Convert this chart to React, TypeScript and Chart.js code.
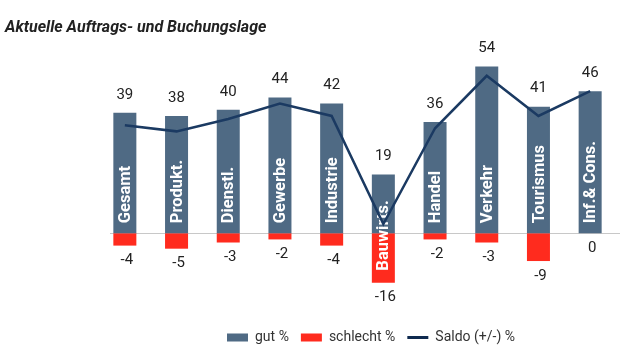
import React, { useEffect, useRef } from "react";
import { Chart, registerables } from "chart.js";

Chart.register(...registerables);

const title = "Aktuelle Auftrags- und Buchungslage";
const categories = ["Gesamt", "Produkt.", "Dienstl.", "Gewerbe", "Industrie", "Bauwirts.", "Handel", "Verkehr", "Tourismus", "Inf.& Cons."];
const gut = [39, 38, 40, 44, 42, 19, 36, 54, 41, 46];
const schlecht = [-4, -5, -3, -2, -4, -16, -2, -3, -9, 0];
const saldo = [35, 33, 37, 42, 38, 3, 34, 51, 38, 46];
const seriesNames = ["gut %", "schlecht %", "Saldo (+/-) %"];

const GUT_COLOR = "#4f6a84";
const BAD_COLOR = "#ff2b1e";
const LINE_COLOR = "#1b3a62";
const TEXT_COLOR = "#222222";
const FONT = "Roboto, 'DejaVu Sans', sans-serif";

const overlay = {
  id: "overlay",
  beforeDatasetsDraw(chart: any) {
    const { ctx, chartArea } = chart;
    const y0 = Math.round(chart.scales.y.getPixelForValue(0)) + 0.5;
    ctx.save();
    ctx.strokeStyle = "#c8c8c8";
    ctx.lineWidth = 1;
    ctx.beginPath();
    ctx.moveTo(chartArea.left + 11, y0);
    ctx.lineTo(chart.width, y0);
    ctx.stroke();
    ctx.restore();
  },
  afterDatasetDraw(chart: any, args: any) {
    if (args.index !== 0) return;
    const { ctx } = chart;
    const yScale = chart.scales.y;
    const metaGood = chart.getDatasetMeta(0);
    ctx.save();
    ctx.font = `bold 16.5px ${FONT}`;
    ctx.fillStyle = "#ffffff";
    ctx.textAlign = "left";
    ctx.textBaseline = "middle";
    categories.forEach((cat, i) => {
      const bar = metaGood.data[i];
      const x = bar.x;
      const zero = yScale.getPixelForValue(0);
      const top = yScale.getPixelForValue(gut[i]);
      const w = ctx.measureText(cat).width;
      let anchor = zero - 10;
      if (w + 14 > zero - top) {
        anchor = yScale.getPixelForValue(schlecht[i]) - 12;
      }
      ctx.save();
      ctx.translate(x + 1, anchor);
      ctx.rotate(-Math.PI / 2);
      ctx.fillText(cat, 0, 0);
      ctx.restore();
    });
    ctx.restore();
  },
  afterDatasetsDraw(chart: any) {
    const { ctx } = chart;
    const yScale = chart.scales.y;
    const metaGood = chart.getDatasetMeta(0);
    ctx.save();
    ctx.font = `15px ${FONT}`;
    ctx.fillStyle = TEXT_COLOR;
    ctx.textAlign = "center";
    ctx.textBaseline = "middle";
    categories.forEach((_, i) => {
      const x = metaGood.data[i].x;
      ctx.fillText(String(gut[i]), x, yScale.getPixelForValue(gut[i]) - 18);
      ctx.fillText(String(schlecht[i]), x + 2, yScale.getPixelForValue(schlecht[i]) + 15);
    });
    ctx.restore();
  },
  afterDraw(chart: any) {
    const { ctx } = chart;
    ctx.save();
    // title
    ctx.font = `italic bold 16px ${FONT}`;
    ctx.fillStyle = TEXT_COLOR;
    ctx.textAlign = "left";
    ctx.textBaseline = "middle";
    ctx.fillText(title, 5, 28);
    // legend
    ctx.font = `14px ${FONT}`;
    ctx.fillStyle = "#333333";
    let x = 227;
    const ly = 337.5;
    const swatchW = 21;
    seriesNames.forEach((name, i) => {
      if (i === 2) {
        ctx.strokeStyle = "#0f2a4f";
        ctx.lineWidth = 3;
        ctx.beginPath();
        ctx.moveTo(x, ly);
        ctx.lineTo(x + swatchW, ly);
        ctx.stroke();
      } else {
        ctx.fillStyle = i === 0 ? GUT_COLOR : BAD_COLOR;
        ctx.fillRect(x, ly - 4, swatchW, 8);
      }
      ctx.fillStyle = "#333333";
      const tx = x + swatchW + 7;
      ctx.fillText(name, tx, ly);
      x = tx + ctx.measureText(name).width + 12;
    });
    ctx.restore();
  },
};

export default function App() {
  const ref = useRef<HTMLCanvasElement | null>(null);
  useEffect(() => {
    if (!ref.current) return;
    const chart = new Chart(ref.current, {
      type: "bar",
      data: {
        labels: categories,
        datasets: [
          {
            type: "bar",
            label: seriesNames[0],
            data: gut,
            backgroundColor: GUT_COLOR,
            grouped: false,
            categoryPercentage: 1,
            barPercentage: 0.445,
            order: 1,
          },
          {
            type: "bar",
            label: seriesNames[1],
            data: schlecht,
            backgroundColor: BAD_COLOR,
            grouped: false,
            categoryPercentage: 1,
            barPercentage: 0.445,
            order: 1,
          },
          {
            type: "line",
            label: seriesNames[2],
            data: saldo,
            borderColor: LINE_COLOR,
            borderWidth: 2.5,
            pointRadius: 0,
            tension: 0,
            fill: false,
            order: 0,
          },
        ] as any,
      },
      options: {
        responsive: false,
        animation: false,
        devicePixelRatio: 1,
        layout: { padding: { left: 99, right: 4, top: 48, bottom: 64 } },
        plugins: {
          legend: { display: false },
          title: { display: false },
          tooltip: { enabled: false },
        },
        scales: {
          x: { display: false, offset: true },
          y: { display: false, min: -20, max: 60 },
        },
      },
      plugins: [overlay],
    });
    return () => chart.destroy();
  }, []);
  return (
    <div style={{ position: "fixed", left: 0, top: 0, width: 620, height: 359, background: "#ffffff" }}>
      <canvas ref={ref} width={620} height={359} />
    </div>
  );
}
